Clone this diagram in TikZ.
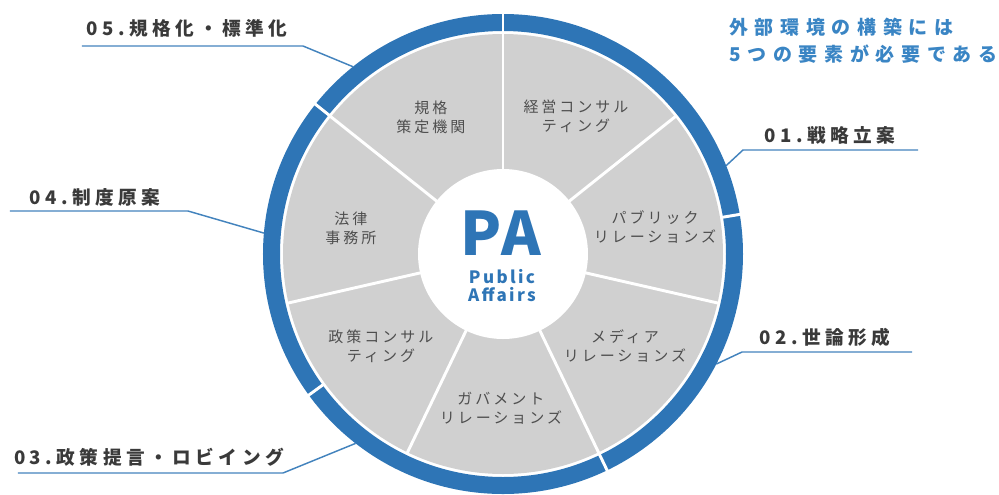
\documentclass[tikz,border=0pt]{standalone}
\usepackage{fontspec}
\setmainfont{Noto Sans CJK JP}
\usepackage{xcolor}
\usepackage{tikz}
\definecolor{pablue}{RGB}{46,117,182}
\definecolor{patitle}{RGB}{58,133,196}
\definecolor{pagray}{RGB}{208,208,208}
\definecolor{padark}{RGB}{58,58,58}
\tikzstyle{pa}=[
  x=0.75pt,y=0.75pt
]
\tikzstyle{seclabel}=[
  font=\fontsize{11.25}{14.25}\selectfont\addfontfeature{LetterSpace=20},
  text=padark!90!white,align=center,inner sep=0pt
]
\tikzstyle{itemlabel}=[
  font=\bfseries\fontsize{14}{16}\selectfont\addfontfeature{LetterSpace=24},
  text=padark,inner sep=0pt
]
\tikzstyle{leader}=[
  draw=pablue!90!white,line width=1.1pt
]

\begin{document}
\begin{tikzpicture}[pa]
    \useasboundingbox (-503,-240) rectangle (496,254);
    % leader lines
    \coordinate (r1) at (21.6:240);
    \coordinate (k1) at (240,104);
    \coordinate (e1) at (415,104);
    \coordinate (r2) at (-27.3:240);
    \coordinate (k2) at (239,-98);
    \coordinate (e2) at (409,-98);
    \coordinate (r3) at (232.1:240);
    \coordinate (k3) at (-220,-219);
    \coordinate (e3) at (-485,-219);
    \coordinate (r4) at (175:240);
    \coordinate (k4) at (-315,43);
    \coordinate (e4) at (-493,43);
    \coordinate (r5) at (128.7:240);
    \coordinate (k5) at (-200,208);
    \coordinate (e5) at (-421,208);
    \draw[leader] (r1) -- (k1) -- (e1);
    \draw[leader] (r2) -- (k2) -- (e2);
    \draw[leader] (r3) -- (k3) -- (e3);
    \draw[leader] (r4) -- (k4) -- (e4);
    \draw[leader] (r5) -- (k5) -- (e5);
    % outer ring
    \fill[pablue,even odd rule] (0,0) circle (240) (0,0) circle (223);
    \foreach \a in {9.5,90,141.4,216,295.7}
      \draw[white,line width=2.2pt] (\a:220) -- (\a:243);
    % sectors
    \fill[pagray] (0,0) circle (220);
    \foreach \k in {0,...,6}
      \draw[white,line width=2.2pt] (90+\k*51.4286:80) -- (90+\k*51.4286:221);
    \fill[white] (0,0) circle (85);
    % centre
    \node[font=\bfseries\fontsize{45}{45}\selectfont\addfontfeature{LetterSpace=6},
          text=pablue,inner sep=0pt] (pa) at (-2,21) {PA};
    \node[font=\bfseries\fontsize{12.75}{13.5}\selectfont\addfontfeature{LetterSpace=14},
          text=pablue,align=center,inner sep=0pt] (public) at (-1,-32) {Public\\Affairs};
    % sector labels
    \node[seclabel] (kikaku) at (-72,137) {規格\\策定機関};
    \node[seclabel] (keiei) at (73,138) {経営コンサル\\ティング};
    \node[seclabel] (public rel) at (152,27) {パブリック\\リレーションズ};
    \node[seclabel] (media) at (122,-92) {メディア\\リレーションズ};
    \node[seclabel] (gov) at (-2,-154) {ガバメント\\リレーションズ};
    \node[seclabel] (seisaku) at (-122,-92) {政策コンサル\\ティング};
    \node[seclabel] (houritsu) at (-152,26) {法律\\事務所};
    % item labels
    \node[itemlabel] (item1) at (327,119) {01.戦略立案};
    \node[itemlabel] (item2) at (322,-83) {02.世論形成};
    \node[itemlabel] (item3) at (-354,-203) {03.政策提言・ロビイング};
    \node[itemlabel] (item4) at (-408,57) {04.制度原案};
    \node[itemlabel] (item5) at (-316,226) {05.規格化・標準化};
    % title
    \node[font=\bfseries\fontsize{14.25}{20.25}\selectfont\addfontfeature{LetterSpace=35},
          text=patitle,align=left,anchor=west,inner sep=0pt] (title) at (226,213)
          {外部環境の構築には\\5つの要素が必要である};
\end{tikzpicture}
\end{document}
